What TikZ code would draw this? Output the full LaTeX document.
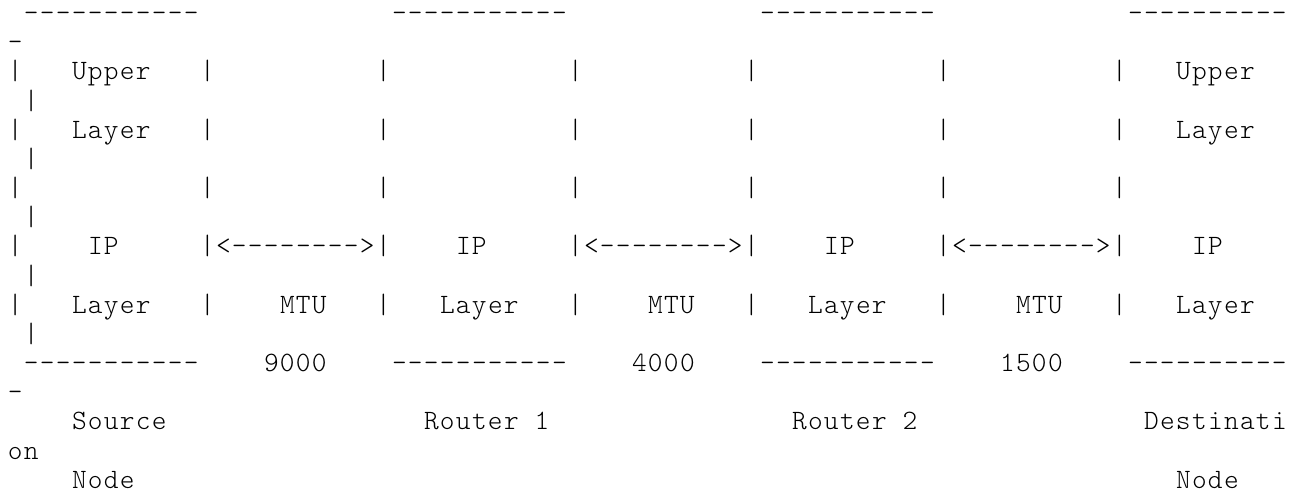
\documentclass[tikz,border=0pt]{standalone}
\usepackage{fontspec}
\newfontfamily\asciifont{lmmonolt10-regular.otf}[LetterSpace=4.64]
\begin{document}
\begin{tikzpicture}[x=8pt,y=-14.58pt,every node/.style={anchor=base west,inner sep=0pt,outer sep=0pt,font=\asciifont\fontsize{14pt}{14.58pt}\selectfont}]
    \useasboundingbox (-0.5,-0.743) rectangle (81,16.164);
    % box edges, one column per character
    \foreach \r/\nm in {0/top,12/bot} {
        \foreach \c [count=\i] in {1,24,47} \node (\nm\i) at (\c,\r) {-----------};
        \node (\nm4) at (70,\r) {----------};
        \node (\nm w) at (0,\r+1) {-};
    }
    \foreach \r in {2,4,6,8,10} {
        \foreach \c [count=\i] in {0,12,23,35,46,58,69} \node (bar\r-\i) at (\c,\r) {|};
    }
    \foreach \r in {3,5,7,9,11} \node (wrap\r) at (1,\r) {|};
    \node (srcupper) at (4,2) {Upper};
    \node (dstupper) at (73,2) {Upper};
    \node (srclayer) at (4,4) {Layer};
    \node (dstlayer) at (73,4) {Layer};
    \foreach \c [count=\i] in {5,28,51,74} \node (ip\i) at (\c,8) {IP};
    \foreach \c [count=\i] in {4,27,50,73} \node (iplayer\i) at (\c,10) {Layer};
    \foreach \c [count=\i] in {13,36,59} \node (link\i) at (\c,8) {<-------->};
    \foreach \c [count=\i] in {17,40,63} \node (mtu\i) at (\c,10) {MTU};
    \node (mtuval1) at (16,12) {9000};
    \node (mtuval2) at (39,12) {4000};
    \node (mtuval3) at (62,12) {1500};
    \node (source) at (4,14) {Source};
    \node (router1) at (26,14) {Router 1};
    \node (router2) at (49,14) {Router 2};
    \node (dest) at (71,14) {Destinati};
    \node (destwrap) at (0,15) {on};
    \node (srcnode) at (4,16) {Node};
    \node (dstnode) at (73,16) {Node};
\end{tikzpicture}
\end{document}
